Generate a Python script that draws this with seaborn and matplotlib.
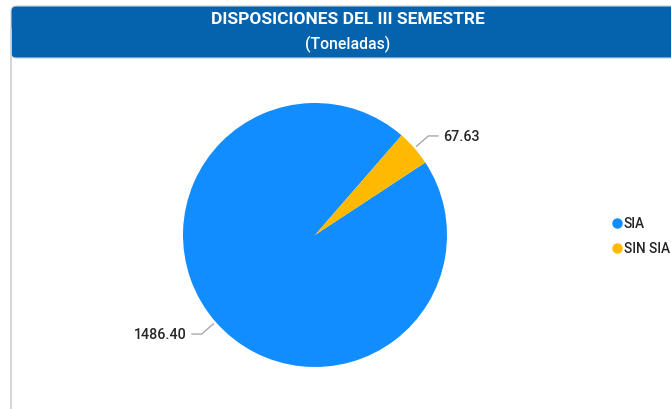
import numpy as np
import seaborn as sns
import matplotlib.pyplot as plt
from matplotlib.patches import FancyBboxPatch
from matplotlib.lines import Line2D

categories = ["SIA", "SIN SIA"]
values = [1486.40, 67.63]
value_labels = ["1486.40", "67.63"]
colors = ["#118DFF", "#FFB900"]

title = "DISPOSICIONES DEL III SEMESTRE"
subtitle = "(Toneladas)"

sns.set_theme(style="white")
plt.rcParams['font.family'] = ['Roboto', 'DejaVu Sans']

W, H = 671, 410
fig = plt.figure(figsize=(W / 100, H / 100), dpi=100)
fig.patch.set_facecolor("white")

# full-figure axes in pixel units (y down)
ax = fig.add_axes([0, 0, 1, 1])
ax.set_xlim(0, W)
ax.set_ylim(H, 0)
ax.set_aspect("equal")
ax.axis("off")

# card border + header
ax.add_line(Line2D([11, 11], [30, H], color="#d0d0d0", lw=1.2))
header = FancyBboxPatch((11, 7), 700, 52, boxstyle="round,pad=0,rounding_size=5",
                        fc="#0563AE", ec="#c9d3dd", lw=0.8)
ax.add_patch(header)
ax.text(348, 20, title, color="white", fontsize=12.5, fontweight="bold",
        ha="center", va="center")
ax.text(348, 44, subtitle, color="white", fontsize=11.3, fontweight="medium",
        ha="center", va="center")

# pie
cx, cy, r = 315, 236, 132
wedges, _ = ax.pie(values, colors=colors, startangle=-49, counterclock=False,
                   center=(cx, cy), radius=r, wedgeprops=dict(linewidth=0))
ax.set_xlim(0, W)
ax.set_ylim(H, 0)

# leader lines and value labels (y axis is inverted, so angles flip)
for w, lab in zip(wedges, value_labels):
    mid = np.deg2rad((w.theta1 + w.theta2) / 2)
    ux, uy = np.cos(mid), np.sin(mid)
    p0 = (cx + r * 1.02 * ux, cy + r * 1.02 * uy)
    p1 = (cx + r * 1.14 * ux, cy + r * 1.14 * uy)
    sgn = 1 if ux > 0 else -1
    p2 = (p1[0] + sgn * 10, p1[1])
    ax.plot([p0[0], p1[0], p2[0]], [p0[1], p1[1], p2[1]], color="#a0a0a0", lw=0.9)
    ax.text(p2[0] + sgn * 5, p2[1], lab, fontsize=10.3, fontweight="medium",
            color="#252423", ha="left" if sgn > 0 else "right", va="center")

# legend
for i, (cat, col) in enumerate(zip(categories, colors)):
    y = 224 + i * 25
    ax.plot([617], [y], "o", color=col, markersize=6.5)
    ax.text(624, y, cat, fontsize=9.8, fontweight="medium", color="#252423",
            ha="left", va="center")

fig.savefig("out.png", dpi=100)
